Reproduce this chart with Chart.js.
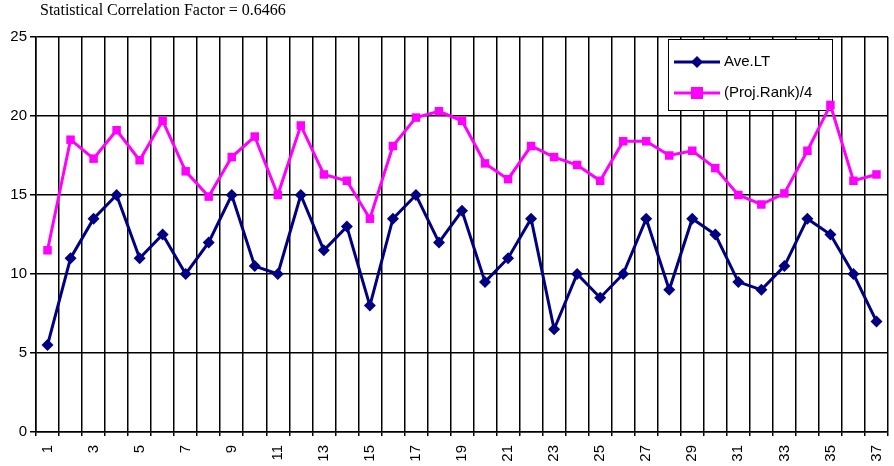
<!DOCTYPE html>
<html>
<head>
<meta charset="utf-8">
<script src="https://cdn.jsdelivr.net/npm/chart.js@4"></script>
<style>
  html, body { margin: 0; padding: 0; background: #fff; }
  #wrap { width: 894px; height: 466px; position: relative; }
</style>
</head>
<body>
<div id="wrap"><canvas id="chart"></canvas></div>
<script>
// Categories 1..37
const categories = ['1','2','3','4','5','6','7','8','9','10','11','12','13','14','15','16','17','18','19',
    '20','21','22','23','24','25','26','27','28','29','30','31','32','33','34','35','36','37'];

// Ave.LT values
const aveLT = [5.5, 11, 13.5, 15, 11, 12.5, 10, 12, 15, 10.5, 10, 15, 11.5, 13, 8, 13.5, 15, 12, 14,
    9.5, 11, 13.5, 6.5, 10, 8.5, 10, 13.5, 9, 13.5, 12.5, 9.5, 9, 10.5, 13.5, 12.5, 10, 7];

// (Proj.Rank)/4 values
const projRank = [11.5, 18.5, 17.3, 19.1, 17.2, 19.7, 16.5, 14.9, 17.4, 18.7, 15, 19.4, 16.3, 15.9, 13.5, 18.1, 19.9, 20.3, 19.7,
    17, 16, 18.1, 17.4, 16.9, 15.9, 18.4, 18.4, 17.5, 17.8, 16.7, 15, 14.4, 15.1, 17.8, 20.7, 15.9, 16.3];

const yTicks = [0, 5, 10, 15, 20, 25];
const titleText = 'Statistical Correlation Factor = 0.6466';

// Title drawn in serif at top left, like the original
const titlePlugin = {
    id: 'topTitle',
    afterDraw(chart) {
        const ctx = chart.ctx;
        ctx.save();
        ctx.fillStyle = '#000';
        ctx.font = '16px "Liberation Serif", serif';
        ctx.textBaseline = 'middle';
        ctx.fillText(titleText, 40, 11);
        ctx.restore();
    }
};

// Boxed legend inside the plot area (Excel style), under the lines
const boxLegend = {
    id: 'boxLegend',
    beforeDatasetsDraw(chart) {
        const ctx = chart.ctx;
        const x = 668, y = 39, w = 164, h = 71;
        ctx.save();
        ctx.fillStyle = '#fff';
        ctx.fillRect(x, y, w, h);
        ctx.strokeStyle = '#000';
        ctx.lineWidth = 1;
        ctx.strokeRect(x + 0.5, y + 0.5, w, h);
        chart.data.datasets.forEach((ds, i) => {
            const cy = y + 23 + i * 31;
            ctx.strokeStyle = ds.borderColor;
            ctx.lineWidth = 3;
            ctx.beginPath();
            ctx.moveTo(x + 6, cy);
            ctx.lineTo(x + 52, cy);
            ctx.stroke();
            ctx.fillStyle = ds.borderColor;
            const mx = x + 29;
            if (ds.pointStyle === 'rectRot') {
                ctx.beginPath();
                ctx.moveTo(mx, cy - 6);
                ctx.lineTo(mx + 6, cy);
                ctx.lineTo(mx, cy + 6);
                ctx.lineTo(mx - 6, cy);
                ctx.closePath();
                ctx.fill();
            } else {
                ctx.fillRect(mx - 6, cy - 6, 12, 12);
            }
            ctx.fillStyle = '#000';
            ctx.font = '15px "Liberation Sans", Arial, sans-serif';
            ctx.textBaseline = 'middle';
            ctx.fillText(ds.label, x + 56, cy);
        });
        ctx.restore();
    }
};

const ctx = document.getElementById('chart').getContext('2d');
new Chart(ctx, {
    type: 'line',
    data: {
        labels: categories,
        datasets: [{
            label: 'Ave.LT',
            data: aveLT,
            borderColor: '#000080',
            backgroundColor: '#000080',
            borderWidth: 3,
            pointStyle: 'rectRot',
            pointRadius: 6,
            pointBorderWidth: 0,
            tension: 0
        }, {
            label: '(Proj.Rank)/4',
            data: projRank,
            borderColor: '#ff00ff',
            backgroundColor: '#ff00ff',
            borderWidth: 3,
            pointStyle: 'rect',
            pointRadius: 6,
            pointBorderWidth: 0,
            tension: 0
        }]
    },
    options: {
        responsive: true,
        maintainAspectRatio: false,
        animation: false,
        layout: { padding: { top: 37, right: 3, left: 0, bottom: 0 } },
        scales: {
            x: {
                type: 'category',
                offset: true,
                grid: { offset: true, color: '#000', lineWidth: 1.5, tickLength: 4 },
                border: { color: '#000', width: 1.5 },
                ticks: {
                    autoSkip: false,
                    maxRotation: 90,
                    minRotation: 90,
                    padding: 9,
                    color: '#000',
                    font: { family: '"Liberation Sans", Arial, sans-serif', size: 15 },
                    callback: (val, i) => (i % 2 === 0 ? categories[i] : '')
                },
                afterFit(scale) {
                    scale.height = 34;
                    scale.paddingLeft = 0;
                    scale.paddingRight = 0;
                }
            },
            y: {
                min: 0,
                max: 25,
                afterBuildTicks(scale) { scale.ticks = yTicks.map(v => ({ value: v })); },
                grid: { color: '#000', lineWidth: 1.5, tickLength: 6 },
                border: { color: '#000', width: 1.5 },
                ticks: {
                    color: '#000',
                    padding: 3,
                    font: { family: '"Liberation Sans", Arial, sans-serif', size: 15 }
                },
                afterFit(scale) {
                    scale.width = 36;
                    scale.paddingTop = 0;
                    scale.paddingBottom = 0;
                }
            }
        },
        plugins: {
            legend: { display: false },
            tooltip: { enabled: false }
        }
    },
    plugins: [titlePlugin, boxLegend]
});
</script>
</body>
</html>
